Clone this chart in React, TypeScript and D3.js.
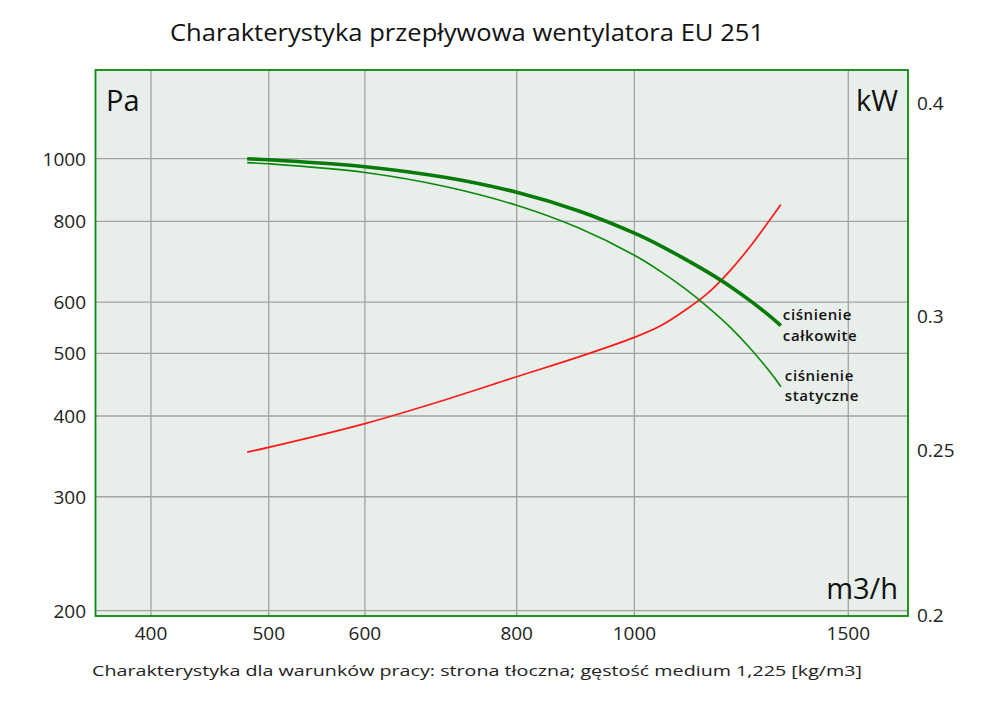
import * as d3 from "d3";

const flow = [480, 500, 600, 700, 800, 900, 1000, 1050, 1100, 1150, 1200, 1250, 1300, 1320];
const totalPressure = [1000, 996, 972, 935, 887, 830, 767, 734, 700, 667, 634, 600, 566, 552];
const staticPressure = [986, 982, 952, 905, 847, 781, 709, 670, 630, 589, 548, 505, 462, 444];
const power = [0.2494, 0.251, 0.2592, 0.2678, 0.2762, 0.2837, 0.2913, 0.2958, 0.3021, 0.3094, 0.3191, 0.3306, 0.3435, 0.3488];

const xTicks = [400, 500, 600, 800, 1000, 1500];
const paTicks = [200, 300, 400, 500, 600, 800, 1000];
const kwTicks = [0.2, 0.25, 0.3, 0.4];

const title = "Charakterystyka przepływowa wentylatora EU 251";
const footer = "Charakterystyka dla warunków pracy: strona tłoczna; gęstość medium 1,225 [kg/m3]";

const width = 1000;
const height = 706;
const left = 95.5;
const right = 908;
const top = 70;
const bottom = 616;

const font = "'Open Sans', 'DejaVu Sans', sans-serif";

const App = () => {
  const x = d3.scaleLog().domain([400, 1500]).range([151, 848.3]);
  const yPa = d3.scaleLog().domain([200, 1000]).range([610.6, 158.7]);
  const yKw = d3.scaleLog().domain([0.2, 0.4]).range([615, 103.3]);

  const lineOf = (vals: number[], y: d3.ScaleLogarithmic<number, number>) =>
    d3
      .line<number>()
      .x((_, i) => x(flow[i]))
      .y((v) => y(v))
      .curve(d3.curveCatmullRom.alpha(0.5))(vals) as string;

  const lastX = x(flow[flow.length - 1]);

  return (
    <svg
      width={width}
      height={height}
      style={{ position: "absolute", left: 0, top: 0, background: "#fff" }}
      fontFamily={font}
    >
      <text x={467} y={41} textAnchor="middle" fontSize={24} fill="#111" textLength={594} lengthAdjust="spacingAndGlyphs">
        {title}
      </text>

      <rect x={left} y={top} width={right - left} height={bottom - top} fill="#e8eeea" />

      {xTicks.map((t) => (
        <line key={"gx" + t} x1={x(t)} x2={x(t)} y1={top} y2={bottom} stroke="#a3a3a3" strokeWidth={1.3} />
      ))}
      {paTicks.map((t) => (
        <line key={"gy" + t} x1={left} x2={right} y1={yPa(t)} y2={yPa(t)} stroke="#a3a3a3" strokeWidth={1.3} />
      ))}

      <path d={lineOf(power, yKw)} fill="none" stroke="#ff1a1a" strokeWidth={1.7} />
      <path d={lineOf(staticPressure, yPa)} fill="none" stroke="#0a8a0a" strokeWidth={1.6} />
      <path d={lineOf(totalPressure, yPa)} fill="none" stroke="#067a06" strokeWidth={3.6} />

      <rect x={left} y={top} width={right - left} height={bottom - top} fill="none" stroke="#0a8a0a" strokeWidth={1.8} />

      {paTicks.map((t) => (
        <text key={"ly" + t} x={86} y={yPa(t)} textAnchor="end" dominantBaseline="central" fontSize={19} fill="#222">
          {t}
        </text>
      ))}
      {xTicks.map((t) => (
        <text key={"lx" + t} x={x(t)} y={633} textAnchor="middle" dominantBaseline="central" fontSize={19} fill="#222">
          {t}
        </text>
      ))}
      {kwTicks.map((t) => (
        <text key={"lk" + t} x={917} y={yKw(t)} dominantBaseline="central" fontSize={19} fill="#222">
          {t}
        </text>
      ))}

      <text x={106} y={111} fontSize={29} fill="#111">Pa</text>
      <text x={898} y={111} textAnchor="end" fontSize={29} fill="#111">kW</text>
      <text x={898} y={599} textAnchor="end" fontSize={29} fill="#111">m3/h</text>

      <g fontSize={15} fontWeight={600} fill="#111" letterSpacing={0.6}>
        <text x={lastX + 2} y={320}>ciśnienie</text>
        <text x={lastX + 2} y={341}>całkowite</text>
        <text x={lastX + 4} y={381}>ciśnienie</text>
        <text x={lastX + 4} y={401}>statyczne</text>
      </g>

      <text x={92} y={676} fontSize={15} fill="#222" textLength={770} lengthAdjust="spacingAndGlyphs">
        {footer}
      </text>
    </svg>
  );
};

export default App;
